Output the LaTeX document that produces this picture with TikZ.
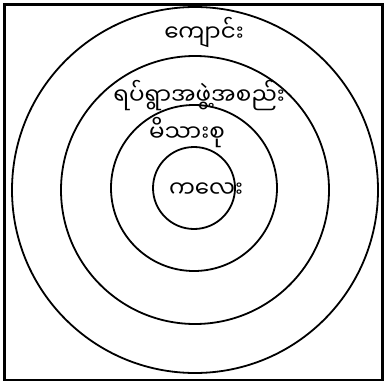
\documentclass[tikz,border=0pt]{standalone}
\usepackage{fontspec}
\newfontfamily\mmfont[Script=Myanmar]{Noto Sans Myanmar UI}

\begin{document}
\begin{tikzpicture}[
x=1pt,y=-1pt,
font=\mmfont\fontsize{23}{27}\selectfont,
ring/.style={draw,circle,line width=1.8pt,minimum size=#1,inner sep=0pt},
ringLabel/.style={inner sep=0pt}
]
\useasboundingbox (0,0) rectangle (385,382);
\draw[line width=2.2pt] (4.5,4.5) rectangle (382.5,380);

\node[ring=366pt] (school) at (195,190) {};
\node[ring=268pt] (community) at (195,190) {};
\node[ring=166pt] (family) at (194,188) {};
\node[ring=82pt] (child) at (194,188) {};

\node[ringLabel] (schoolLabel) at (204,33) {ကျောင်း};
\node[ringLabel] (communityLabel) at (199,96) {ရပ်ရွာအဖွဲ့အစည်း};
\node[ringLabel] (familyLabel) at (187,133) {မိသားစု};
\node[ringLabel] (childLabel) at (206,190) {ကလေး};
\end{tikzpicture}
\end{document}
